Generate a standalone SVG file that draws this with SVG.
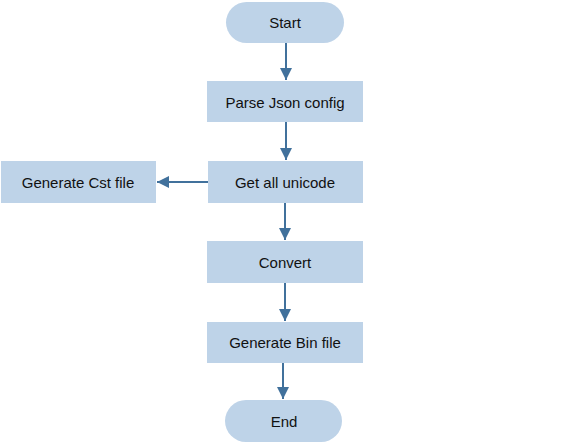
<svg xmlns="http://www.w3.org/2000/svg" width="570" height="443" viewBox="0 0 570 443">
<defs>
<style>
.n{fill:#bed3e8;stroke:none}
.t{font-family:"Liberation Sans",Arial,sans-serif;font-size:15px;fill:#111;text-anchor:middle;dominant-baseline:central}
.c{stroke:#41719c;stroke-width:2;fill:none}
</style>
<marker id="ah" viewBox="0 0 10 10" refX="10" refY="5" markerWidth="6" markerHeight="6" orient="auto" markerUnits="strokeWidth"><path d="M0,0 L10,5 L0,10 Z" fill="#41719c"/></marker>
</defs>
<rect width="570" height="443" fill="#fff"/>
<g id="start"><rect class="n" x="226" y="2" width="118" height="41" rx="20.5"/><text class="t" x="285" y="22">Start</text></g>
<g id="parse"><rect class="n" x="207" y="81" width="156" height="41"/><text class="t" x="285" y="102">Parse Json config</text></g>
<g id="unicode"><rect class="n" x="208" y="161" width="155" height="42"/><text class="t" x="285" y="182">Get all unicode</text></g>
<g id="cst"><rect class="n" x="1" y="161" width="155" height="42"/><text class="t" x="78" y="182">Generate Cst file</text></g>
<g id="convert"><rect class="n" x="207" y="241" width="156" height="42"/><text class="t" x="285" y="262">Convert</text></g>
<g id="bin"><rect class="n" x="207" y="322" width="156" height="41"/><text class="t" x="285" y="342">Generate Bin file</text></g>
<g id="end"><rect class="n" x="225" y="400" width="117" height="42" rx="21"/><text class="t" x="284" y="421">End</text></g>
<g id="connectors">
<path class="c" d="M286,43 V80" marker-end="url(#ah)"/>
<path class="c" d="M286,122 V160" marker-end="url(#ah)"/>
<path class="c" d="M208,182 H157" marker-end="url(#ah)"/>
<path class="c" d="M285,203 V240" marker-end="url(#ah)"/>
<path class="c" d="M285,283 V321" marker-end="url(#ah)"/>
<path class="c" d="M283,363 V399" marker-end="url(#ah)"/>
</g>
</svg>
